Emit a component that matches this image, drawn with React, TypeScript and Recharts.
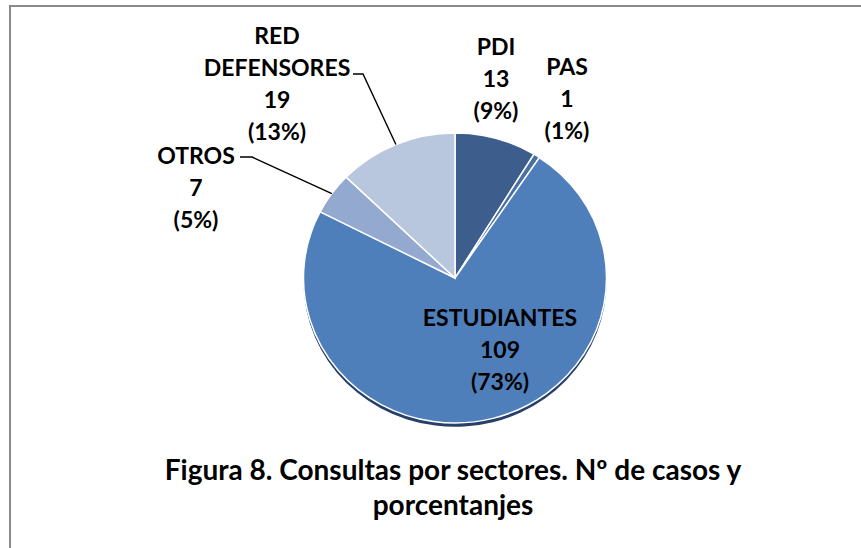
import React from "react";
import { PieChart, Pie, Cell } from "recharts";

// --- data ---------------------------------------------------------------
const sectors = ["PDI", "PAS", "ESTUDIANTES", "OTROS", "RED DEFENSORES"];
const cases = [13, 1, 109, 7, 19];
const sliceColors = ["#3d5e8c", "#4a6fa3", "#4f7fba", "#94a9cf", "#b8c6de"];

// where Excel put each label, measured from the pie centre
const labelPos = [
  { dx: 41, dy: -200 },
  { dx: 112, dy: -180 },
  { dx: 45, dy: 71 },
  { dx: -259, dy: -91 },
  { dx: -178, dy: -195 },
];
// horizontal stub of leader line (relative to pie centre), null = no leader
const leaderStub: ({ x1: number; x2: number; y: number } | null)[] = [
  null,
  null,
  null,
  { x1: -215, x2: -203, y: -121 },
  { x1: -102, x2: -92, y: -204 },
];

const total = cases.reduce((a, b) => a + b, 0);
const data = sectors.map((name, i) => ({ name, value: cases[i] }));

const CX = 455;
const CY = 278;
const R = 151.5;
const SQUASH = 0.957;
const FONT = "Lato, 'Open Sans', sans-serif";
const RAD = Math.PI / 180;

const renderLabel = (props: any) => {
  const { cx, cy, midAngle, outerRadius, index, value, name } = props;
  const pos = labelPos[index];
  const lines = [...String(name).split(" "), String(value), `(${Math.round((value / total) * 100)}%)`];
  const lx = cx + pos.dx;
  const ly = cy + pos.dy;
  const lh = 32;
  const y0 = ly - ((lines.length - 1) * lh) / 2;
  const stub = leaderStub[index];
  let leader = null;
  if (stub) {
    const ex = cx + outerRadius * Math.cos(-midAngle * RAD);
    const ey = cy + outerRadius * Math.sin(-midAngle * RAD) * SQUASH;
    const near = stub.x1 < 0 ? stub.x2 : stub.x1;
    const far = stub.x1 < 0 ? stub.x1 : stub.x2;
    leader = (
      <polyline
        points={`${ex},${ey} ${cx + near},${cy + stub.y} ${cx + far},${cy + stub.y}`}
        fill="none"
        stroke="#000"
        strokeWidth={1.4}
      />
    );
  }
  return (
    <g key={`lbl-${index}`}>
      {leader}
      <text
        x={lx}
        y={y0}
        textAnchor="middle"
        dominantBaseline="central"
        fontFamily={FONT}
        fontWeight={700}
        fontSize={23}
        fill="#000"
      >
        {lines.map((t, i) => (
          <tspan key={i} x={lx} y={y0 + i * lh}>
            {t}
          </tspan>
        ))}
      </text>
    </g>
  );
};

export default function App() {
  return (
    <div style={{ position: "fixed", left: 0, top: 0, width: 861, height: 548, background: "#fff", overflow: "hidden" }}>
      <style>{`
        .recharts-pie-sector {
          transform-box: view-box;
          transform-origin: ${CX}px ${CY}px;
          transform: scaleY(${SQUASH});
        }
      `}</style>
      <div
        style={{
          position: "absolute",
          left: 9,
          top: 5,
          width: 900,
          height: 600,
          border: "2px solid #8a8a8a",
          boxSizing: "border-box",
        }}
      />
      <div style={{ position: "absolute", left: 0, top: 0 }}>
        <PieChart width={861} height={548} margin={{ top: 0, right: 0, bottom: 0, left: 0 }}>
          {/* dark rim underneath for the 3-D edge */}
          <Pie
            data={data}
            dataKey="value"
            nameKey="name"
            cx={CX}
            cy={CY + 4}
            outerRadius={R}
            startAngle={90}
            endAngle={-270}
            fill="#26406a"
            stroke="none"
            label={false}
            labelLine={false}
            isAnimationActive={false}
          />
          <Pie
            data={data}
            dataKey="value"
            nameKey="name"
            cx={CX}
            cy={CY}
            outerRadius={R}
            startAngle={90}
            endAngle={-270}
            stroke="#fff"
            strokeWidth={1.5}
            label={renderLabel}
            labelLine={false}
            isAnimationActive={false}
          >
            {data.map((d, i) => (
              <Cell key={d.name} fill={sliceColors[i]} />
            ))}
          </Pie>
        </PieChart>
      </div>
      <div
        style={{
          position: "absolute",
          left: 0,
          width: 906,
          top: 452,
          textAlign: "center",
          fontFamily: FONT,
          fontWeight: 700,
          fontSize: 28,
          lineHeight: "35px",
          color: "#000",
        }}
      >
        Figura 8. Consultas por sectores. Nº de casos y
        <br />
        porcentanjes
      </div>
    </div>
  );
}
